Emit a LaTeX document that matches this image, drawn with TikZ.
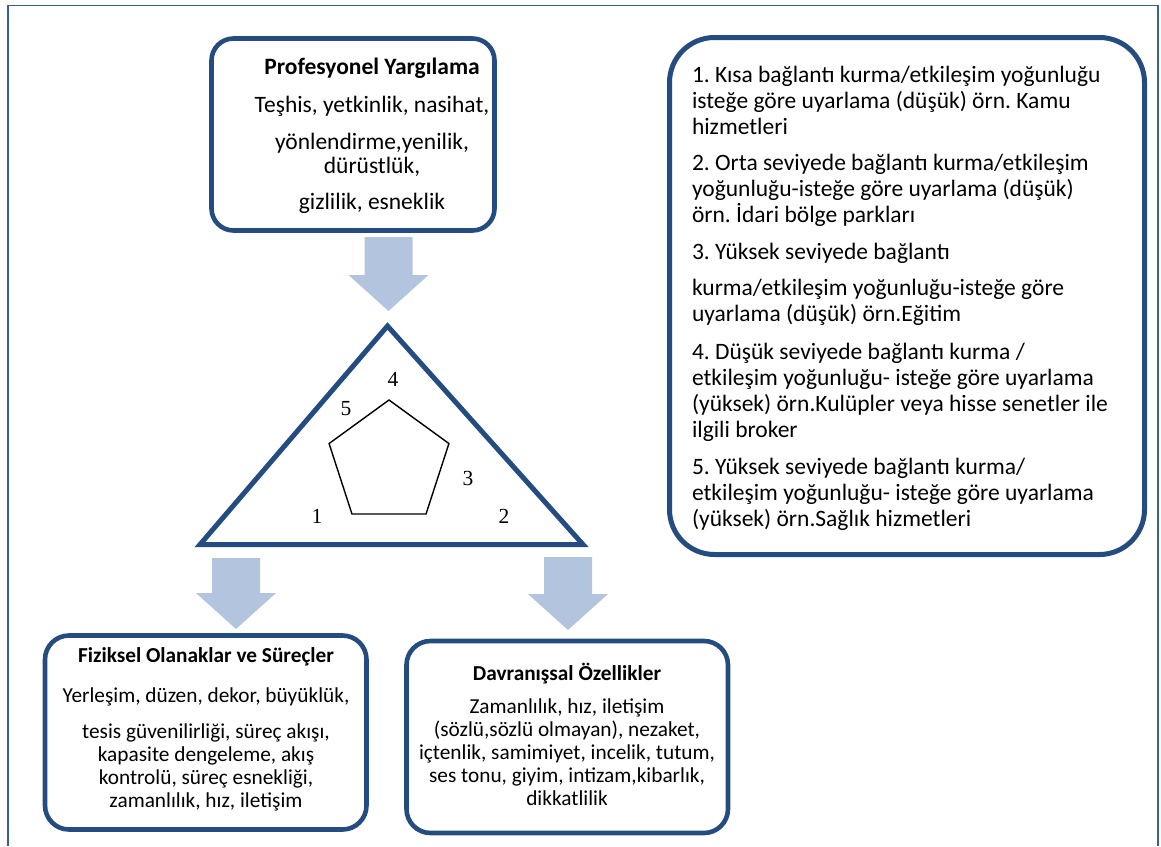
\documentclass[tikz,border=0pt]{standalone}
\usepackage{fontspec}
\setmainfont{Carlito}
\newfontfamily\numfont{Liberation Serif}
\usetikzlibrary{calc,shapes.geometric}
\frenchspacing
\definecolor{frameblue}{HTML}{3C5F91}
\definecolor{boxblue}{HTML}{244C80}
\definecolor{arrowfill}{HTML}{B3C4DF}
\newcommand\blockarrow[2]{%
  \fill[arrowfill] ($(#1)+(-24,0)$) -- ($(#1)+(24,0)$) -- ($(#2)+(24,-36)$) --
    ($(#2)+(40,-36)$) -- (#2) -- ($(#2)+(-40,-36)$) -- ($(#2)+(-24,-36)$) -- cycle;}
\begin{document}
\begin{tikzpicture}[x=1pt,y=-1pt,
  smallbox/.style={draw=boxblue, line width=4.6pt, rounded corners=22pt, fill=white, inner sep=0pt, outer sep=0pt},
  bigbox/.style={draw=boxblue, line width=5pt, rounded corners=45pt, fill=white, inner sep=0pt, outer sep=0pt},
  txt/.style={inner sep=0pt, outer sep=0pt, text=black},
  toptxt/.style={txt, align=center, font=\fontsize{23.5}{24}\selectfont},
  righttxt/.style={txt, align=left, font=\fontsize{23.5}{26}\selectfont},
  bottxt/.style={txt, align=center, font=\fontsize{21.3}{23}\selectfont},
  num/.style={txt, font=\numfont\fontsize{21.5}{24}\selectfont},
  tri/.style={draw=boxblue, line width=5pt, line join=miter},
  pent/.style={draw=black, line width=1.4pt, regular polygon, regular polygon sides=5,
    minimum size=126pt, inner sep=0pt, outer sep=0pt}]
\useasboundingbox (0,0) rectangle (1161,846);
% outer frame
\draw[frameblue, line width=1.6pt] (8,846) -- (8,5.5) -- (1158,5.5) -- (1158,846);

% top box (text anchored at the baseline of its last line)
\node[smallbox, minimum width=283pt, minimum height=192pt] (prof) at (353,134.5) {};
\node[toptxt, anchor=base] (proftxt) at (372,209)
  {\textbf{Profesyonel Yargılama}\\[14pt]
   Teşhis, yetkinlik, nasihat,\\[13pt]
   yönlendirme,yenilik,\\
   dürüstlük,\\[12pt]
   gizlilik, esneklik};

% right box
\node[bigbox, minimum width=475pt, minimum height=517pt] (list) at (907,296) {};
\node[righttxt, anchor=base west] (listtxt) at (692,526)
  {1. Kısa bağlantı kurma/etkileşim yoğunluğu\\
   isteğe göre uyarlama (düşük) örn. Kamu\\
   hizmetleri\\[10pt]
   2. Orta seviyede bağlantı kurma/etkileşim\\
   yoğunluğu-isteğe göre uyarlama (düşük)\\
   örn. İdari bölge parkları\\[11pt]
   3. Yüksek seviyede bağlantı\\[10pt]
   kurma/etkileşim yoğunluğu-isteğe göre\\
   uyarlama (düşük) örn.Eğitim\\[12pt]
   4. Düşük seviyede bağlantı kurma /\\
   etkileşim yoğunluğu- isteğe göre uyarlama\\
   (yüksek) örn.Kulüpler veya hisse senetler ile\\
   ilgili broker\\[11pt]
   5. Yüksek seviyede bağlantı kurma/\\
   etkileşim yoğunluğu- isteğe göre uyarlama\\
   (yüksek) örn.Sağlık hizmetleri};

% triangle
\coordinate (tA) at (387.5,326);
\coordinate (tB) at (200,544.5);
\coordinate (tC) at (583,544.5);
\draw[tri] (tA) -- (tB) -- (tC) -- cycle;
\node[pent] (pentagon) at (389,463) {};
\node[num] (n4) at (393,379) {4};
\node[num] (n5) at (346,409) {5};
\node[num] (n3) at (468,478) {3};
\node[num] (n1) at (317,516) {1};
\node[num] (n2) at (504,516) {2};

% bottom boxes
\node[smallbox, rounded corners=24pt, minimum width=321.5pt, minimum height=194pt] (phys) at (205.75,732.5) {};
\node[bottxt, anchor=base] (phystxt) at (206,807)
  {\textbf{Fiziksel Olanaklar ve Süreçler}\\[17pt]
   Yerleşim, düzen, dekor, büyüklük,\\[13pt]
   tesis güvenilirliği, süreç akışı,\\
   kapasite dengeleme, akış\\
   kontrolü, süreç esnekliği,\\
   zamanlılık, hız, iletişim};

\node[smallbox, rounded corners=24pt, minimum width=321.5pt, minimum height=192pt] (behav) at (567.25,737) {};
\node[bottxt, anchor=base] (behavtxt) at (567,805)
  {\textbf{Davranışsal Özellikler}\\[10pt]
   Zamanlılık, hız, iletişim\\
   (sözlü,sözlü olmayan), nezaket,\\
   içtenlik, samimiyet, incelik, tutum,\\
   ses tonu, giyim, intizam,kibarlık,\\
   dikkatlilik};

% block arrows
\coordinate (a1s) at (388.5,237);
\coordinate (a1t) at (388.5,311);
\coordinate (a2s) at (236,558);
\coordinate (a2t) at (236,629);
\coordinate (a3s) at (568,557);
\coordinate (a3t) at (568,630);
\blockarrow{a1s}{a1t}
\blockarrow{a2s}{a2t}
\blockarrow{a3s}{a3t}
\end{tikzpicture}
\end{document}
